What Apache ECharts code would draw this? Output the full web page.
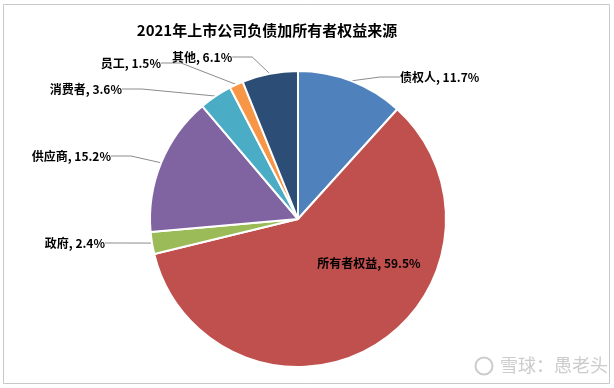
<!DOCTYPE html>
<html><head><meta charset="utf-8">
<script src="https://cdn.jsdelivr.net/npm/echarts@6/dist/echarts.min.js"></script>
<style>html,body{margin:0;padding:0;background:#fff}#c{width:614px;height:388px}</style>
</head><body><div id="c"></div>
<script>
const titleText = '2021年上市公司负债加所有者权益来源';
const categories = ['债权人','所有者权益','政府','供应商','消费者','员工','其他'];
const values = [11.7, 59.5, 2.4, 15.2, 3.6, 1.5, 6.1];
const colors = ['#4F81BD','#C0504D','#9BBB59','#8064A2','#4BACC6','#F79646','#2C4D75'];
// label anchor placement (layout only)
const labelPos = {
  '债权人': {x: 400, y: 77, align: 'left'},
  '所有者权益': {x: 369, y: 263, align: 'center'},
  '政府': {x: 105, y: 243, align: 'right'},
  '供应商': {x: 111, y: 156, align: 'right'},
  '消费者': {x: 122, y: 89, align: 'right'},
  '员工': {x: 161, y: 63, align: 'right'},
  '其他': {x: 172, y: 57, align: 'left'}
};
const chart = echarts.init(document.getElementById('c'));
const font = '"Noto Sans CJK SC", "Liberation Sans", sans-serif';
chart.setOption({
  backgroundColor: '#fff',
  animation: false,
  title: {text: titleText, left: 262, top: 18, textAlign: 'center',
    textStyle: {fontFamily: font, fontSize: 15, fontWeight: 'bold', color: '#000'}},
  graphic: [
    {type: 'rect', shape: {x: 3.5, y: 4.5, width: 606, height: 379}, style: {fill: 'none', stroke: '#c8c8c8', lineWidth: 1}, silent: true},
    {type: 'circle', shape: {cx: 484, cy: 366, r: 8.5}, style: {fill: 'none', stroke: '#cccccc', lineWidth: 2}},
    {type: 'text', left: 500, top: 356, style: {text: '雪球：愚老头', fill: '#cccccc', font: '18px "Noto Sans CJK SC", sans-serif'}}
  ],
  series: [{
    type: 'pie',
    center: [298, 219],
    radius: ['0%', 148],
    startAngle: 90,
    clockwise: true,
    data: categories.map((c, i) => ({name: c, value: values[i], itemStyle: {color: colors[i]},
      label: i === 1 ? {position: 'inside'} : {}, labelLine: {show: i !== 1}})),
    itemStyle: {borderColor: '#fff', borderWidth: 2},
    label: {show: true, formatter: p => p.name + ', ' + p.value.toFixed(1) + '%',
      fontFamily: font, fontSize: 12, fontWeight: 'bold', color: '#000'},
    labelLine: {show: true, lineStyle: {color: '#8c8c8c', width: 1}, length: 20, length2: 20},
    labelLayout: function (p) {
      const lp = labelPos[categories[p.dataIndex]];
      return {x: lp.x, y: lp.y, align: lp.align, verticalAlign: 'middle'};
    }
  }]
});
</script></body></html>
